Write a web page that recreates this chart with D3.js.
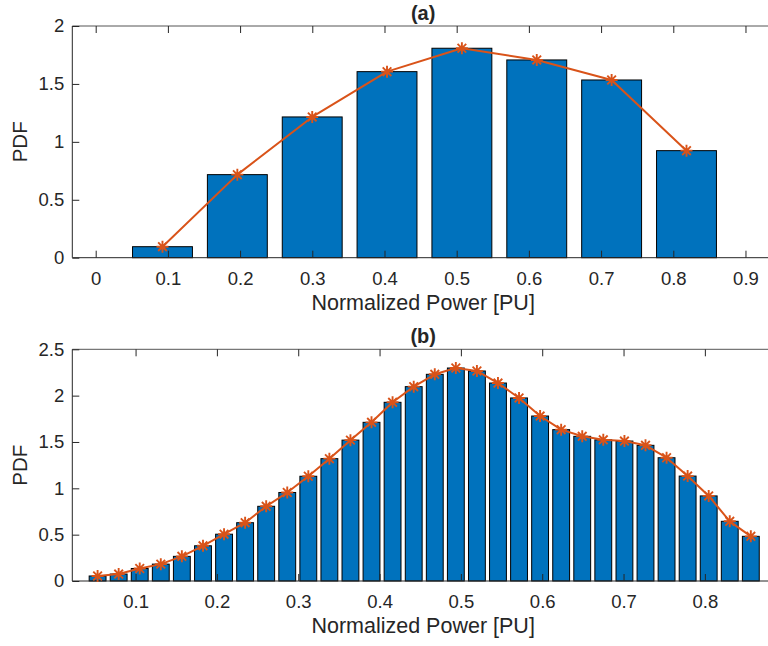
<!DOCTYPE html>
<html>
<head>
<meta charset="utf-8">
<script src="https://cdn.jsdelivr.net/npm/d3@7"></script>
<style>
  html, body { margin: 0; padding: 0; background: #ffffff; }
  svg { display: block; }
  text { font-family: "Liberation Sans", Arial, Helvetica, sans-serif; fill: #262626; }
</style>
</head>
<body>
<svg id="chart" width="768" height="646"></svg>
<script>
// ---- Panel (a): 8-bin histogram of normalized power ----
const binCentersA = [0.0925, 0.1962, 0.2999, 0.4035, 0.5072, 0.6109, 0.7146, 0.8183];
const pdfA        = [0.095, 0.717, 1.215, 1.606, 1.808, 1.707, 1.534, 0.924];
const xTicksA     = [0, 0.1, 0.2, 0.3, 0.4, 0.5, 0.6, 0.7, 0.8, 0.9];
const xTickLabelsA = ["0", "0.1", "0.2", "0.3", "0.4", "0.5", "0.6", "0.7", "0.8", "0.9"];
const yTicksA     = [0, 0.5, 1, 1.5, 2];
const yTickLabelsA = ["0", "0.5", "1", "1.5", "2"];

// ---- Panel (b): 32-bin histogram of normalized power ----
const binCentersB = [0.0533, 0.0792, 0.1051, 0.1310, 0.1569, 0.1829, 0.2088, 0.2347,
                     0.2606, 0.2865, 0.3124, 0.3383, 0.3642, 0.3901, 0.4160, 0.4420,
                     0.4679, 0.4938, 0.5197, 0.5456, 0.5715, 0.5974, 0.6233, 0.6492,
                     0.6751, 0.7011, 0.7270, 0.7529, 0.7788, 0.8047, 0.8306, 0.8565];
const pdfB        = [0.054, 0.075, 0.135, 0.182, 0.266, 0.380, 0.505, 0.629,
                     0.806, 0.955, 1.130, 1.320, 1.520, 1.712, 1.928, 2.097,
                     2.230, 2.298, 2.266, 2.136, 1.975, 1.780, 1.633, 1.561,
                     1.523, 1.510, 1.464, 1.330, 1.132, 0.918, 0.644, 0.482];
const xTicksB     = [0.1, 0.2, 0.3, 0.4, 0.5, 0.6, 0.7, 0.8];
const xTickLabelsB = ["0.1", "0.2", "0.3", "0.4", "0.5", "0.6", "0.7", "0.8"];
const yTicksB     = [0, 0.5, 1, 1.5, 2, 2.5];
const yTickLabelsB = ["0", "0.5", "1", "1.5", "2", "2.5"];

const titles = ["(a)", "(b)"];
const xLabel = "Normalized Power [PU]";
const yLabel = "PDF";

const BAR_COLOR = "#0072BD";
const LINE_COLOR = "#D95319";
const AXIS_COLOR = "#262626";

const svg = d3.select("#chart");

function drawPanel(cfg) {
  const { left, right, top, bottom, xDomain, yDomain, centers, values,
          xTicks, xTickLabels, yTicks, yTickLabels, title, binStep } = cfg;

  const x = d3.scaleLinear().domain(xDomain).range([left, right]);
  const y = d3.scaleLinear().domain(yDomain).range([bottom, top]);
  const g = svg.append("g");

  // bars: width is 80% of the bin spacing
  const barW = Math.abs(x(binStep) - x(0)) * 0.8;
  g.append("g").selectAll("rect")
    .data(centers.map((c, i) => ({ c, v: values[i] })))
    .join("rect")
      .attr("x", d => x(d.c) - barW / 2)
      .attr("y", d => y(d.v))
      .attr("width", barW)
      .attr("height", d => y(0) - y(d.v))
      .attr("fill", BAR_COLOR)
      .attr("stroke", "#000000")
      .attr("stroke-width", 1);

  // axis frame (top, left, bottom; right edge lies past the page)
  const frame = g.append("g").attr("stroke", AXIS_COLOR).attr("stroke-width", 1).attr("fill", "none");
  frame.append("line").attr("x1", left).attr("x2", right).attr("y1", bottom).attr("y2", bottom);
  frame.append("line").attr("x1", left).attr("x2", right).attr("y1", top).attr("y2", top).attr("stroke", "#555");
  frame.append("line").attr("x1", left).attr("x2", left).attr("y1", top).attr("y2", bottom);

  const fmtX = d => xTickLabels[xTicks.indexOf(d)];
  const fmtY = d => yTickLabels[yTicks.indexOf(d)];

  // bottom x axis with inward ticks
  const xa = g.append("g").attr("transform", `translate(0,${bottom})`)
    .call(d3.axisBottom(x).tickValues(xTicks).tickFormat(fmtX)
      .tickSizeInner(-7).tickSizeOuter(0).tickPadding(14));
  // top x axis ticks only
  const xt = g.append("g").attr("transform", `translate(0,${top})`)
    .call(d3.axisTop(x).tickValues(xTicks).tickFormat("")
      .tickSizeInner(-7).tickSizeOuter(0));
  // left y axis with inward ticks
  const ya = g.append("g").attr("transform", `translate(${left},0)`)
    .call(d3.axisLeft(y).tickValues(yTicks).tickFormat(fmtY)
      .tickSizeInner(-7).tickSizeOuter(0).tickPadding(8));

  [xa, xt, ya].forEach(a => {
    a.select(".domain").remove();
    a.selectAll(".tick line").attr("stroke", AXIS_COLOR);
    a.selectAll(".tick text").attr("fill", AXIS_COLOR)
      .style("font-size", "18.5px")
      .style("font-family", '"Liberation Sans", Arial, Helvetica, sans-serif');
  });

  // connecting line with asterisk markers at each bin top
  const line = d3.line().x((d, i) => x(centers[i])).y(d => y(d));
  g.append("path").datum(values)
    .attr("d", line)
    .attr("fill", "none")
    .attr("stroke", LINE_COLOR)
    .attr("stroke-width", 2)
    .attr("stroke-linejoin", "round");

  const r = 6, rd = r * 0.72;
  const star = `M${-r},0L${r},0M0,${-r}L0,${r}M${-rd},${-rd}L${rd},${rd}M${-rd},${rd}L${rd},${-rd}`;
  g.append("g").selectAll("path")
    .data(values)
    .join("path")
      .attr("transform", (d, i) => `translate(${x(centers[i])},${y(d)})`)
      .attr("d", star)
      .attr("fill", "none")
      .attr("stroke", LINE_COLOR)
      .attr("stroke-width", 1.9);

  // titles and axis labels
  const cx = (left + right) / 2;
  g.append("text").attr("x", cx).attr("y", top - 6)
    .attr("text-anchor", "middle").style("font-size", "20px").style("font-weight", "bold")
    .text(title);
  g.append("text").attr("x", cx).attr("y", bottom + 52)
    .attr("text-anchor", "middle").style("font-size", "21.5px")
    .text(xLabel);
  g.append("text")
    .attr("transform", `translate(${left - 45},${(top + bottom) / 2}) rotate(-90)`)
    .attr("text-anchor", "middle").style("font-size", "20.5px")
    .text(yLabel);
}

drawPanel({
  left: 72.3, right: 774, top: 26, bottom: 257.7,
  xDomain: [-0.0324, 0.9395], yDomain: [0, 2],
  centers: binCentersA, values: pdfA,
  xTicks: xTicksA, xTickLabels: xTickLabelsA,
  yTicks: yTicksA, yTickLabels: yTickLabelsA,
  title: titles[0], binStep: binCentersA[1] - binCentersA[0]
});

drawPanel({
  left: 72.3, right: 774, top: 349.3, bottom: 581,
  xDomain: [0.0222, 0.885], yDomain: [0, 2.5],
  centers: binCentersB, values: pdfB,
  xTicks: xTicksB, xTickLabels: xTickLabelsB,
  yTicks: yTicksB, yTickLabels: yTickLabelsB,
  title: titles[1], binStep: binCentersB[1] - binCentersB[0]
});
</script>
</body>
</html>
